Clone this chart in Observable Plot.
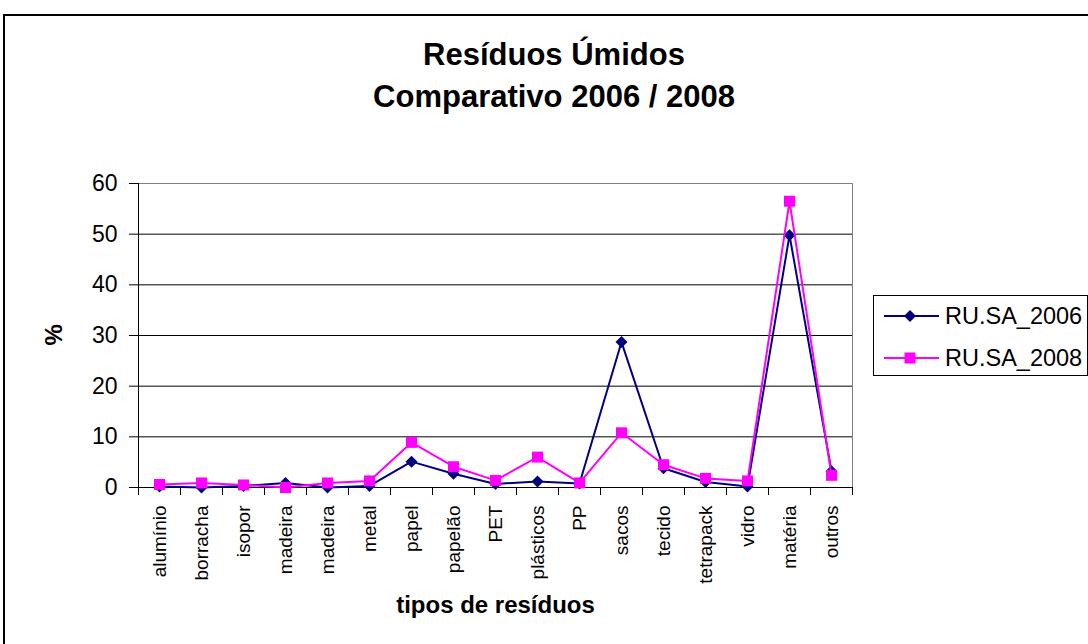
<!DOCTYPE html>
<html>
<head>
<meta charset="utf-8">
<script src="https://cdn.jsdelivr.net/npm/d3@7"></script>
<script src="https://cdn.jsdelivr.net/npm/@observablehq/plot@0.6"></script>
<style>
  body { margin: 0; background: #fff; }
  #grafico { position: relative; width: 1088px; height: 644px; overflow: hidden;
             font-family: Arial, "Liberation Sans", sans-serif; color: #000; }
  #borda { position: absolute; left: 3px; top: 14px; width: 1200px; height: 700px;
           border: 2px solid #000; box-sizing: border-box; }
  #titulo { position: absolute; left: 0; top: 34px; width: 1108px; text-align: center;
            font-weight: bold; font-size: 31px; line-height: 42px; }
  #area { position: absolute; left: 0; top: 160px; }
  #legenda { position: absolute; left: 873px; top: 295px; width: 215px; height: 81px;
             border: 1px solid #000; box-sizing: border-box; background: #fff; }
</style>
</head>
<body>
<div id="grafico">
  <div id="borda"></div>
  <div id="titulo">Resíduos Úmidos<br>Comparativo 2006 / 2008</div>
  <div id="area"></div>
  <div id="legenda"></div>
</div>
<script>
// Tipos de resíduos (eixo x)
const categorias = ["alumínio", "borracha", "isopor", "madeira", "madeira", "metal", "papel",
  "papelão", "PET", "plásticos", "PP", "sacos", "tecido", "tetrapack", "vidro", "matéria", "outros"];

// Percentual de cada tipo, por ano
const ru2006 = [0.2, 0, 0.3, 0.9, 0, 0.3, 5.1, 2.7, 0.7, 1.2, 0.8, 28.7, 3.8, 1.1, 0.2, 49.8, 3.2];
const ru2008 = [0.6, 0.9, 0.5, 0, 0.9, 1.3, 8.9, 4.1, 1.4, 6.0, 0.9, 10.8, 4.5, 1.8, 1.3, 56.5, 2.4];

const series = [
  {nome: "RU.SA_2006", valores: ru2006, cor: "#000080", simbolo: "diamond2", r: 5.4, tam: 92},
  {nome: "RU.SA_2008", valores: ru2008, cor: "#ff00ff", simbolo: "square", r: 6.2, tam: 121}
];

const ticksY = [0, 10, 20, 30, 40, 50, 60];

// Cada categoria ocupa uma faixa [i, i+1]; o ponto fica no centro da faixa
const linhas = series.map(s => s.valores.map((v, i) => ({i: i + 0.5, v, serie: s.nome})));

const marcas = [
  Plot.gridY(ticksY.slice(1, -1), {stroke: "#000", strokeOpacity: 1}),
  Plot.frame({stroke: "#808080"}),
  Plot.ruleX([0], {stroke: "#000"}),
  Plot.ruleY([0], {stroke: "#000"}),
  Plot.axisY({ticks: ticksY, tickSize: 9, tickPadding: 12, fontSize: 23, stroke: "#000"}),
  Plot.axisX({ticks: d3.range(categorias.length + 1), tickSize: 8, tickFormat: () => "", stroke: "#000"}),
  Plot.axisX({
    ticks: d3.range(categorias.length).map(i => i + 0.5),
    tickSize: 0, tickPadding: 18, tickRotate: -90, fontSize: 19,
    tickFormat: d => categorias[Math.floor(d)]
  }),
  Plot.text(["%"], {frameAnchor: "left", dx: -84, dy: 10, rotate: -90, fontSize: 24, fontWeight: "bold"}),
  Plot.text(["tipos de resíduos"], {frameAnchor: "bottom", dy: 125, fontSize: 24, fontWeight: "bold"})
];

series.forEach((s, k) => {
  marcas.push(Plot.line(linhas[k], {x: "i", y: "v", stroke: s.cor, strokeWidth: 2}));
  marcas.push(Plot.dot(linhas[k], {x: "i", y: "v", symbol: s.simbolo, r: s.r, fill: s.cor, stroke: "none"}));
});

const grafico = Plot.plot({
  width: 880,
  height: 470,
  marginLeft: 138,
  marginRight: 28,
  marginTop: 23,
  marginBottom: 143,
  style: {fontFamily: "Arial, 'Liberation Sans', sans-serif", color: "#000", background: "transparent"},
  x: {domain: [0, categorias.length], label: null, axis: null},
  y: {domain: [0, 60], label: null, axis: null},
  marks: marcas
});
document.getElementById("area").appendChild(grafico);

// Legenda com linha e marcador de cada série
const leg = d3.select("#legenda").append("svg")
  .attr("width", 213).attr("height", 79)
  .style("display", "block")
  .style("font-family", "Arial, 'Liberation Sans', sans-serif");
series.forEach((s, k) => {
  const y = 20 + k * 42;
  const g = leg.append("g").attr("transform", `translate(0,${y})`);
  g.append("line").attr("x1", 10).attr("x2", 65).attr("y1", 0).attr("y2", 0)
    .attr("stroke", s.cor).attr("stroke-width", 2);
  const tipo = s.simbolo === "square" ? d3.symbolSquare : d3.symbolDiamond2;
  g.append("path").attr("d", d3.symbol(tipo, s.tam)()).attr("transform", "translate(36,0)")
    .attr("fill", s.cor);
  g.append("text").attr("x", 71).attr("y", 0).attr("dy", "0.35em")
    .attr("font-size", 23.5).attr("fill", "#000").text(s.nome);
});
</script>
</body>
</html>
